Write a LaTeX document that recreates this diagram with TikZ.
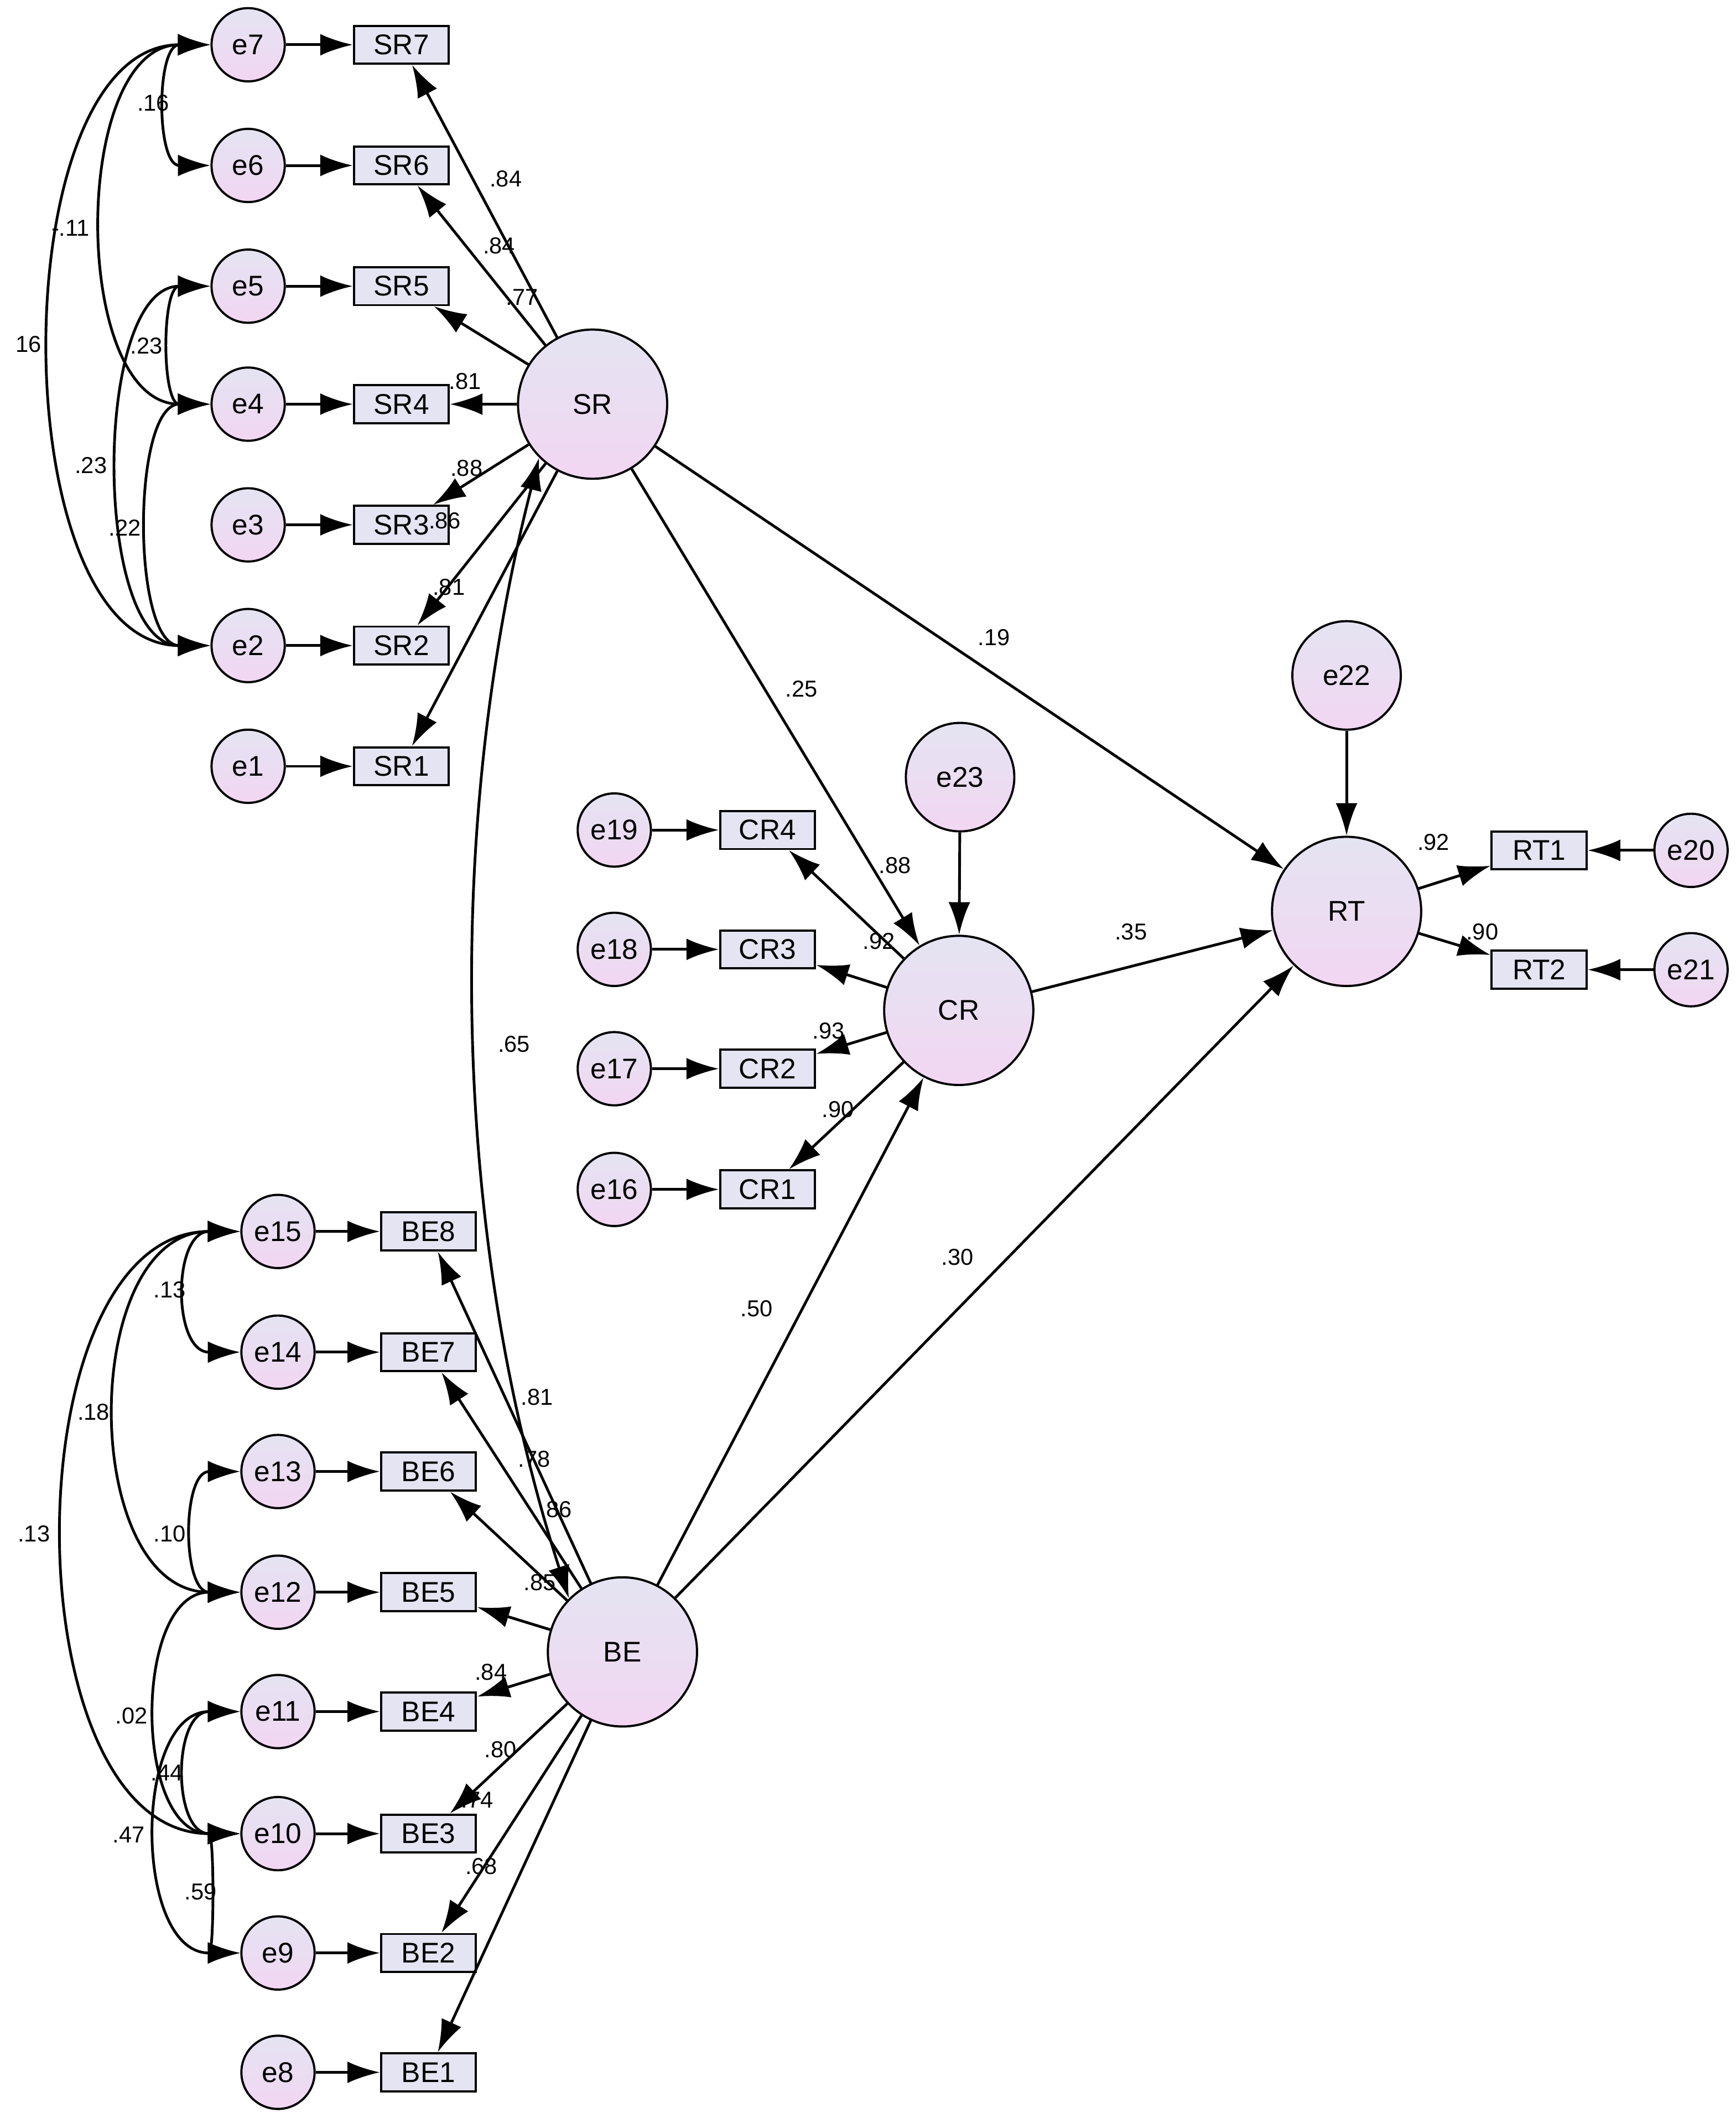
\documentclass[tikz,border=0pt]{standalone}
\usepackage{fontspec}
\setmainfont{Liberation Sans}
\usetikzlibrary{arrows.meta}
\begin{document}
\begin{tikzpicture}[x=1pt,y=1pt,
 lat/.style={circle,draw,line width=1.6pt,top color=cTop,bottom color=cBot,inner sep=0pt,font=\fontsize{21}{21}\selectfont},
 err/.style={lat,minimum size=54pt},
 big/.style={lat,minimum size=110pt},
 mid/.style={lat,minimum size=80pt},
 ind/.style={rectangle,draw,line width=1.6pt,fill=cBox,minimum width=70pt,minimum height=28pt,inner sep=0pt,font=\fontsize{21}{21}\selectfont},
 arr/.style={-{Latex[length=24pt,width=16pt]},line width=2pt},
 cov/.style={{Latex[length=24pt,width=16pt]}-{Latex[length=24pt,width=16pt]},line width=2pt},
 lb/.style={font=\fontsize{17}{17}\selectfont,inner sep=0pt}]
\definecolor{cTop}{RGB}{228,228,242}
\definecolor{cBot}{RGB}{242,214,242}
\definecolor{cBox}{RGB}{228,228,242}
\useasboundingbox[fill=white] (0,0) rectangle (1280,-1558);
% SR block
\foreach \i/\y in {7/33,6/122,5/211,4/298,3/387,2/476,1/565}{
 \node[err] (e\i) at (183,-\y) {e\i};
 \node[ind] (SR\i) at (296,-\y) {SR\i};
 \draw[arr] (e\i) -- (SR\i);}
\node[big] (SR) at (437,-298) {SR};
\foreach \i in {1,...,7}{\draw[arr] (SR) -- (SR\i);}
% BE block
\foreach \i/\k/\y in {15/8/908,14/7/997,13/6/1085,12/5/1174,11/4/1262,10/3/1352,9/2/1440,8/1/1528}{
 \node[err] (e\i) at (205,-\y) {e\i};
 \node[ind] (BE\k) at (316,-\y) {BE\k};
 \draw[arr] (e\i) -- (BE\k);}
\node[big] (BE) at (459,-1218) {BE};
\foreach \i in {1,...,8}{\draw[arr] (BE) -- (BE\i);}
% CR block
\foreach \i/\k/\y in {19/4/612,18/3/700,17/2/788,16/1/877}{
 \node[err] (e\i) at (453,-\y) {e\i};
 \node[ind] (CR\k) at (566,-\y) {CR\k};
 \draw[arr] (e\i) -- (CR\k);}
\node[big] (CR) at (707,-745) {CR};
\foreach \i in {1,...,4}{\draw[arr] (CR) -- (CR\i);}
\node[mid] (e23) at (708,-573) {e23};
\draw[arr] (e23) -- (CR);
% RT block
\node[big] (RT) at (993,-672) {RT};
\node[mid] (e22) at (993,-498) {e22};
\draw[arr] (e22) -- (RT);
\node[ind] (RT1) at (1135,-627) {RT1};
\node[ind] (RT2) at (1135,-715) {RT2};
\node[err] (e20) at (1247,-627) {e20};
\node[err] (e21) at (1247,-715) {e21};
\draw[arr] (e20) -- (RT1);
\draw[arr] (e21) -- (RT2);
\draw[arr] (RT) -- (RT1);
\draw[arr] (RT) -- (RT2);
% structural
\draw[arr] (SR) -- (CR);
\draw[arr] (SR) -- (RT);
\draw[arr] (CR) -- (RT);
\draw[arr] (BE) -- (CR);
\draw[arr] (BE) -- (RT);
\draw[cov] (SR.south west) .. controls (330,-600) and (330,-900) .. (BE.north west);
% SR covariances
\draw[cov] (e7.west) .. controls (115,-33) and (115,-122) .. (e6.west);
\draw[cov] (e7.west) .. controls (52,-33) and (52,-298) .. (e4.west);
\draw[cov] (e7.west) .. controls (1,-33) and (1,-476) .. (e2.west);
\draw[cov] (e5.west) .. controls (119,-211) and (119,-298) .. (e4.west);
\draw[cov] (e5.west) .. controls (68,-211) and (68,-476) .. (e2.west);
\draw[cov] (e4.west) .. controls (97,-298) and (97,-476) .. (e2.west);
% BE covariances
\draw[cov] (e15.west) .. controls (127,-908) and (127,-997) .. (e14.west);
\draw[cov] (e15.west) .. controls (58,-908) and (58,-1174) .. (e12.west);
\draw[cov] (e15.west) .. controls (7,-908) and (7,-1352) .. (e10.west);
\draw[cov] (e13.west) .. controls (134,-1085) and (134,-1174) .. (e12.west);
\draw[cov] (e12.west) .. controls (98,-1174) and (98,-1352) .. (e10.west);
\draw[cov] (e11.west) .. controls (127,-1262) and (127,-1352) .. (e10.west);
\draw[cov] (e11.west) .. controls (98,-1262) and (98,-1440) .. (e9.west);
\draw[cov] (e10.west) .. controls (158,-1352) and (158,-1440) .. (e9.west);
% labels
\foreach \t/\x/\y in {.84/373/132,.84/368/181,.77/385/219,.81/343/281,.88/344/345,.86/328/384,.81/331/433,
 .81/396/1030,.78/394/1076,.86/410/1113,.85/398/1167,.84/362/1233,.80/369/1290,.74/352/1327,.68/355/1376,
 .65/379/770,.25/591/508,.19/733/470,.35/834/687,.50/558/965,.30/706/927,
 .88/660/638,.92/648/694,.93/611/760,.90/618/818,.92/1057/621,.90/1093/687,
 .16/113/76,-.11/52/168,16/21/254,.23/108/255,.23/67/343,.22/92/389,
 .13/125/951,.18/69/1041,.13/25/1131,.10/125/1131,.02/97/1265,.44/123/1307,.47/95/1353,.59/148/1395}{
 \node[lb] at (\x,-\y) {\t};}
\end{tikzpicture}
\end{document}
